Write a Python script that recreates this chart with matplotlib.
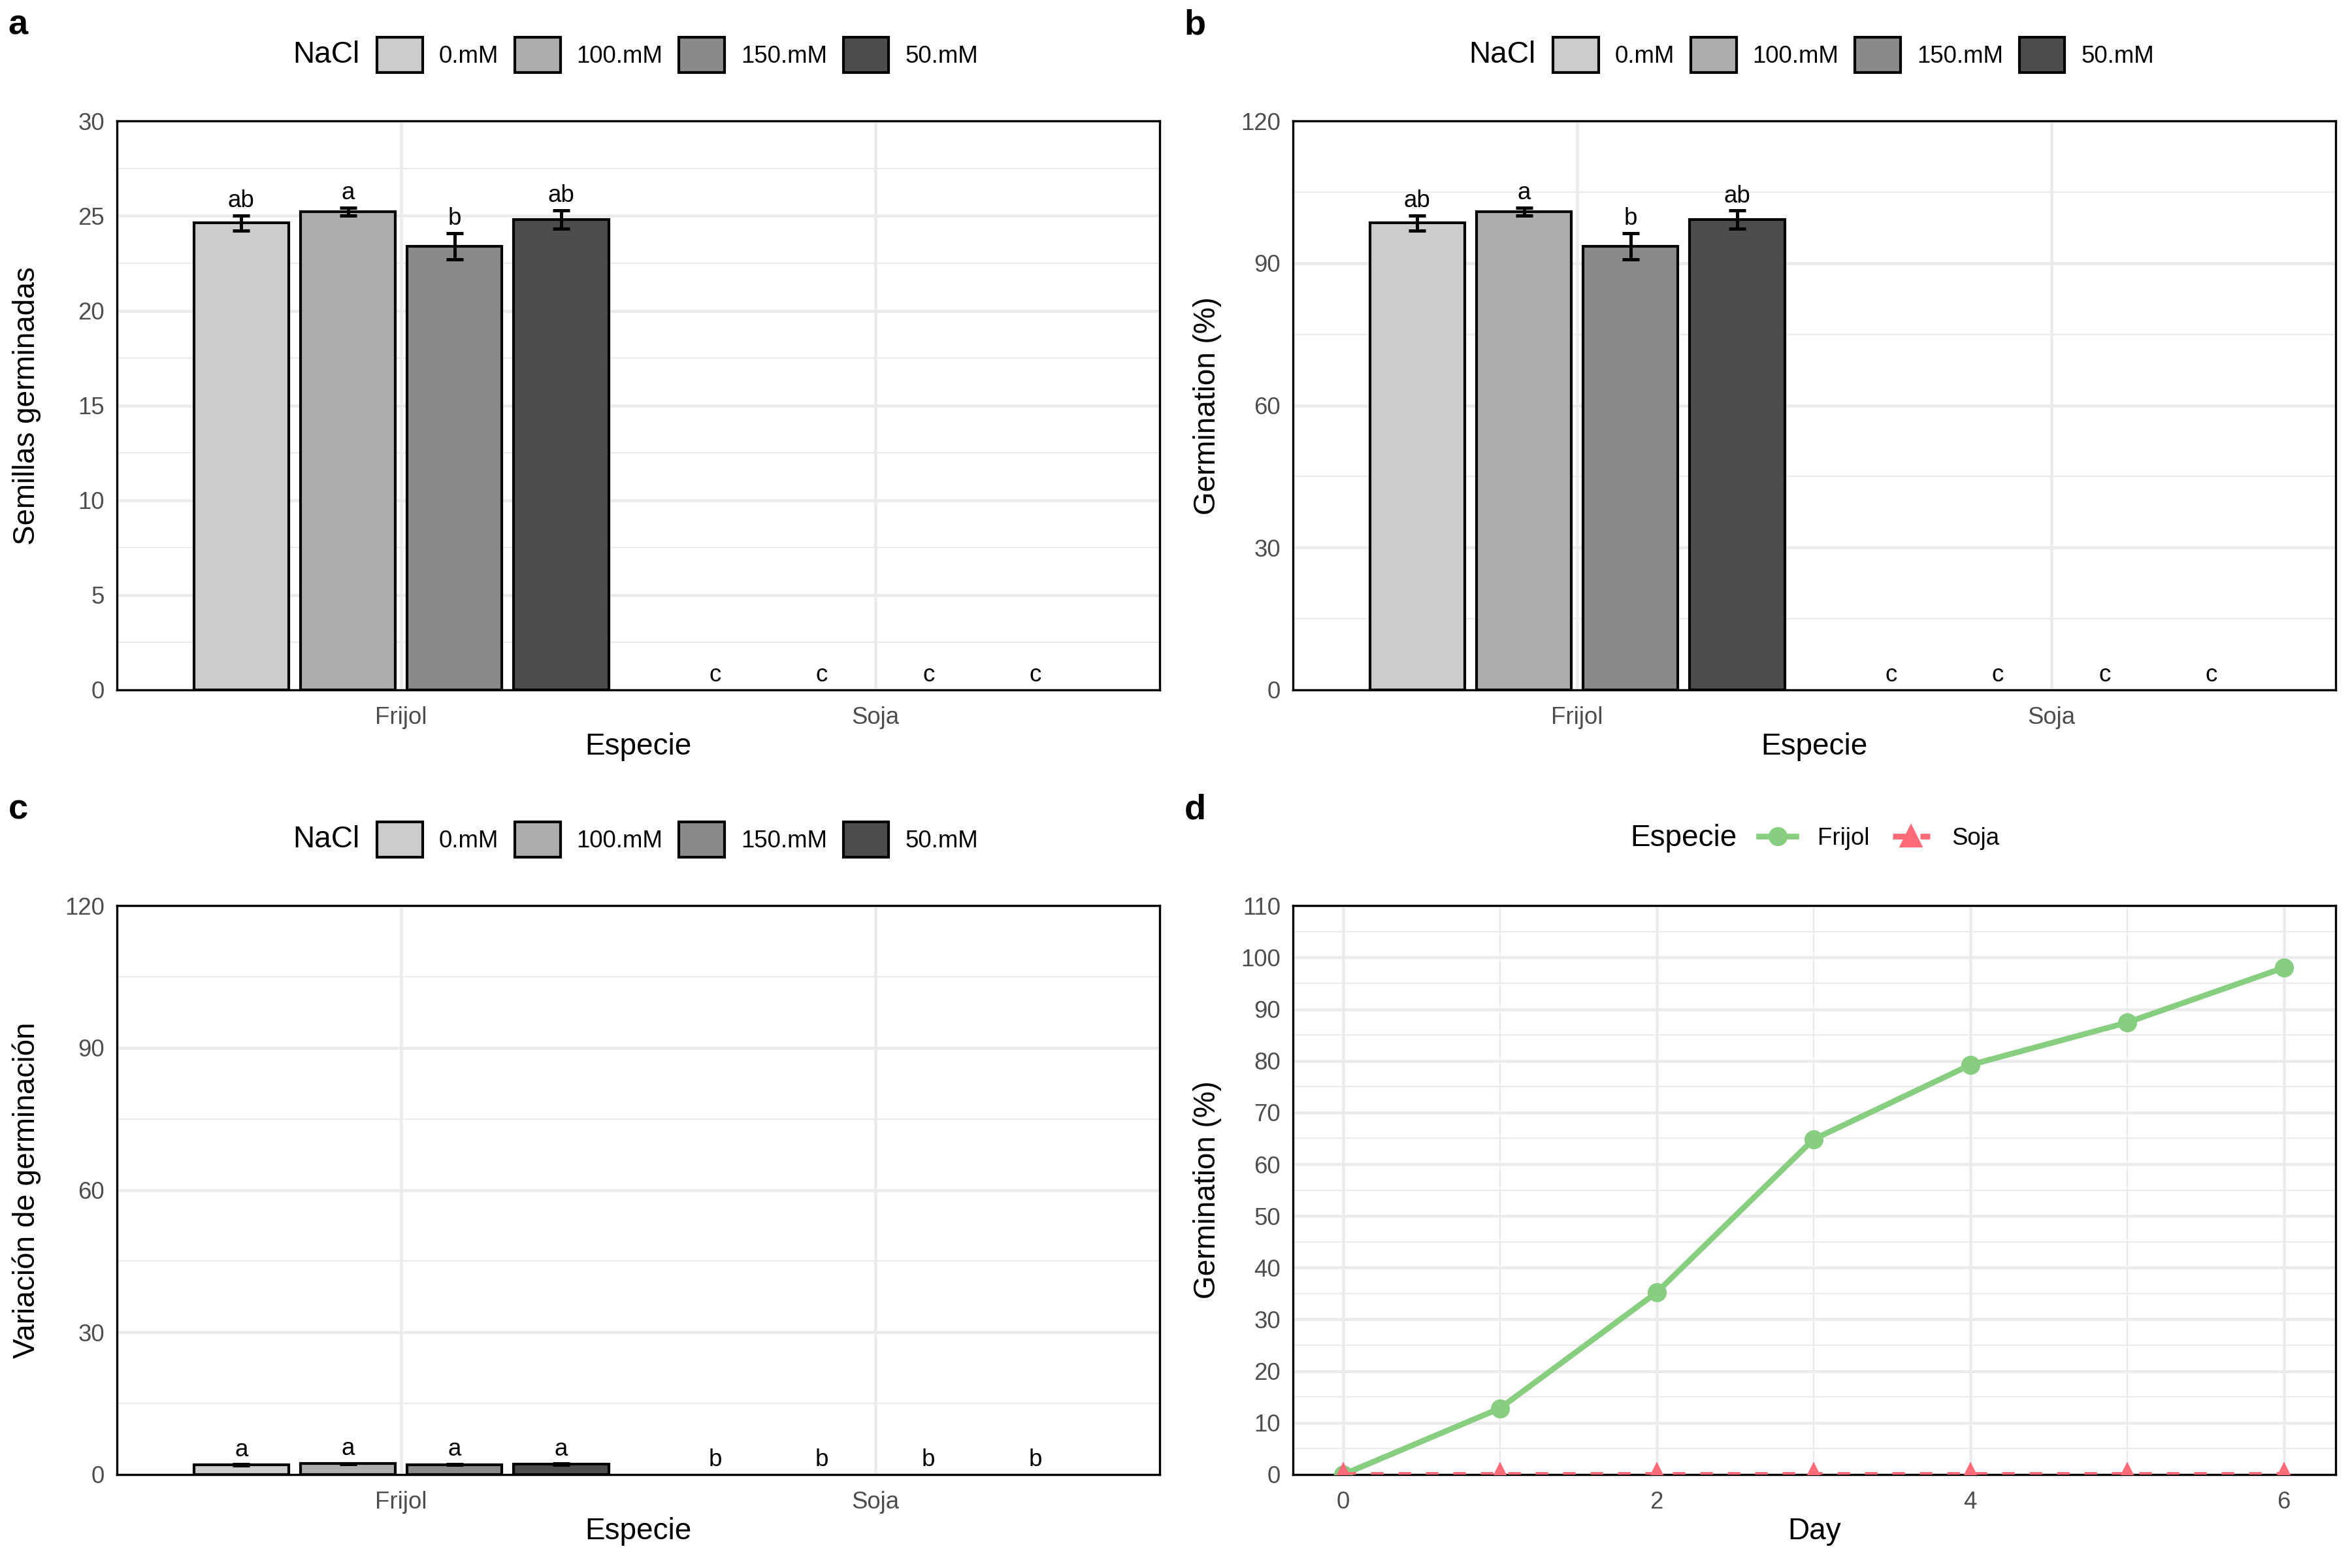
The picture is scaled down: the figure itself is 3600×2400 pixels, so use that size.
import numpy as np
import matplotlib.pyplot as plt
from matplotlib.patches import Patch
from matplotlib.lines import Line2D
from matplotlib.ticker import MultipleLocator

plt.rcParams['font.family'] = ['Liberation Sans', 'DejaVu Sans']

###############################################################################
# datos

especies = ['Frijol', 'Soja']
nacl = ['0.mM', '100.mM', '150.mM', '50.mM']
grises = ['#CCCCCC', '#ADADAD', '#8A8A8A', '#4D4D4D']

# a) semillas germinadas
sem_frijol = [24.62, 25.22, 23.40, 24.80]
sem_frijol_err = [0.40, 0.21, 0.69, 0.49]
sem_soja = [0, 0, 0, 0]
letras_sem_frijol = ['ab', 'a', 'b', 'ab']
letras_sem_soja = ['c', 'c', 'c', 'c']

# b) germinacion (%)
germ_frijol = [98.5, 100.9, 93.6, 99.2]
germ_frijol_err = [1.6, 0.85, 2.75, 1.95]
germ_soja = [0, 0, 0, 0]
letras_germ_frijol = ['ab', 'a', 'b', 'ab']
letras_germ_soja = ['c', 'c', 'c', 'c']

# c) variacion de germinacion
var_frijol = [2.05, 2.30, 2.10, 2.20]
var_frijol_err = [0.10, 0.10, 0.10, 0.12]
var_soja = [0, 0, 0, 0]
letras_var_frijol = ['a', 'a', 'a', 'a']
letras_var_soja = ['b', 'b', 'b', 'b']

# d) germinacion por dia
dias = [0, 1, 2, 3, 4, 5, 6]
germ_dia_frijol = [0, 12.8, 35.2, 64.8, 79.2, 87.4, 98.0]
germ_dia_soja = [0, 0, 0, 0, 0, 0, 0]
col_frijol = '#88CE80'
col_soja = '#FF6A78'

###############################################################################
# funciones

def estilo( ax, ystep, ymax) :
    ax.set_ylim( 0, ymax)
    ax.yaxis.set_major_locator( MultipleLocator( ystep))
    ax.yaxis.set_minor_locator( MultipleLocator( ystep / 2))
    ax.set_axisbelow( True)
    ax.grid( which='major', color='#EBEBEB', lw=1.1)
    ax.grid( which='minor', color='#EBEBEB', lw=0.55)
    ax.tick_params( which='both', length=0, labelsize=8.8, labelcolor='#4D4D4D')
    ax.tick_params( axis='x', pad=6)
    ax.tick_params( axis='y', pad=4.5)
    for s in ax.spines.values() :
        s.set_color( 'black')
        s.set_linewidth( 0.8)
    ax.yaxis.label.set_verticalalignment( 'center')

def barras( ax, frijol, frijol_err, soja, letras_f, letras_s, ystep, ymax, ylabel) :
    grupos = [frijol, soja]
    letras = [letras_f, letras_s]
    for g in range( 2) :
        for i in range( 4) :
            x = g + 1 + (i - 1.5) * 0.225
            val = grupos[g][i]
            ax.bar( x, val, width=0.2, color=grises[i], edgecolor='black',
                    lw=1.0 if val > 0 else 0, zorder=2)
            top = val
            if g == 0 :
                ax.errorbar( x, val, yerr=frijol_err[i], color='black', elinewidth=1.2,
                             capsize=3.2, capthick=1.2, zorder=3)
                top = val + frijol_err[i]
            ax.annotate( letras[g][i], (x, top), xytext=(0, 3), textcoords='offset points',
                         ha='center', va='baseline', fontsize=8.8, zorder=4)
    ax.set_xlim( 0.4, 2.6)
    ax.set_xticks( [1, 2])
    ax.set_xticklabels( especies)
    estilo( ax, ystep, ymax)
    ax.set_xlabel( 'Especie', fontsize=11)
    ax.set_ylabel( ylabel, fontsize=11)

def leyenda( ax, handles, labels, titulo, xkey, xtit, y, hl, hh, tp, cs) :
    ax.legend( handles, labels, loc='center left', bbox_to_anchor=(xkey, y), ncol=len(labels),
               frameon=False, fontsize=8.8, handlelength=hl, handleheight=hh,
               handletextpad=tp, columnspacing=cs, borderpad=0, borderaxespad=0)
    ax.text( xtit, y, titulo, transform=ax.transAxes, ha='right', va='center', fontsize=11)

###############################################################################
# figura

fig = plt.figure( figsize=(12, 8), dpi=300)
w = 0.4433
h = 0.3628
ax_a = fig.add_axes( [0.0497, 0.5600, w, h])
ax_b = fig.add_axes( [0.5497, 0.5600, w, h])
ax_c = fig.add_axes( [0.0497, 0.0596, w, h])
ax_d = fig.add_axes( [0.5497, 0.0596, w, h])

barras( ax_a, sem_frijol, sem_frijol_err, sem_soja, letras_sem_frijol, letras_sem_soja,
        5, 30, 'Semillas germinadas')
barras( ax_b, germ_frijol, germ_frijol_err, germ_soja, letras_germ_frijol, letras_germ_soja,
        30, 120, 'Germination (%)')
barras( ax_c, var_frijol, var_frijol_err, var_soja, letras_var_frijol, letras_var_soja,
        30, 120, 'Variación de germinación')

parches = [Patch( facecolor=grises[i], edgecolor='black', lw=1.0) for i in range(4)]
for ax in (ax_a, ax_b, ax_c) :
    leyenda( ax, parches, nacl, 'NaCl', 0.2494, 0.233, 1.116, 1.9, 1.9, 0.68, 0.68)

# d) lineas
ax_d.plot( dias, germ_dia_frijol, color=col_frijol, lw=2.1, marker='o', markersize=6, zorder=3)
ax_d.plot( dias, germ_dia_soja, color=col_soja, lw=2.1, ls=(0, (2.2, 2.6)), marker='^',
           markersize=7, zorder=4)
ax_d.set_xlim( -0.32, 6.33)
ax_d.xaxis.set_major_locator( MultipleLocator( 2))
ax_d.xaxis.set_minor_locator( MultipleLocator( 1))
estilo( ax_d, 10, 110)
ax_d.set_xlabel( 'Day', fontsize=11)
ax_d.set_ylabel( 'Germination (%)', fontsize=11)
lineas = [Line2D( [], [], color=col_frijol, lw=2.1, marker='o', markersize=6),
          Line2D( [], [], color=col_soja, lw=2.1, ls=(0, (2.2, 2.6)), marker='^', markersize=7)]
leyenda( ax_d, lineas, especies, 'Especie', 0.447, 0.426, 1.118, 1.56, 0.8, 0.9, 0.95)

# posiciones de etiquetas de ejes
for ax in (ax_a, ax_c) :
    ax.yaxis.set_label_coords( -0.0865, 0.5)
for ax in (ax_b, ax_d) :
    ax.yaxis.set_label_coords( -0.082, 0.5)
for ax in (ax_a, ax_b, ax_c, ax_d) :
    ax.xaxis.set_label_coords( 0.5, -0.1)
    ax.xaxis.label.set_verticalalignment( 'center')

# etiquetas de panel
for t, x, y in [('a', 0.0077, 0.984), ('b', 0.508, 0.984), ('c', 0.0077, 0.4835), ('d', 0.508, 0.4835)] :
    fig.text( x, y, t, fontsize=13, fontweight='bold', ha='center', va='center')

fig.savefig( 'out.png', dpi=300, facecolor='white')
